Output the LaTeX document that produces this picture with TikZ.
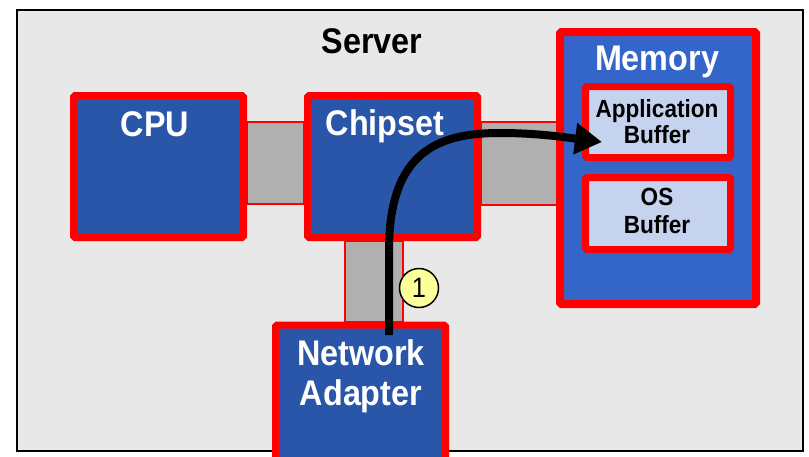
\documentclass[tikz,border=0pt]{standalone}
\usepackage{fontspec}
\setmainfont{Liberation Sans}
\usetikzlibrary{arrows.meta}
\definecolor{bgc}{HTML}{E8E8E8}
\definecolor{boxblue}{HTML}{2A56AA}
\definecolor{memblue}{HTML}{3465C8}
\definecolor{bufc}{HTML}{C5D3EE}
\definecolor{busc}{HTML}{B0B0B0}
\definecolor{redc}{HTML}{FF0000}
\definecolor{numc}{HTML}{FFFF99}
\newcommand{\tallt}[1]{\scalebox{0.98}[1.08]{#1}}
\tikzset{
  unitbox/.style={draw=redc, line width=7pt, fill=boxblue, rounded corners=1.5pt, inner sep=0pt, minimum width=170pt, minimum height=142pt},
  membox/.style={draw=redc, line width=8pt, fill=memblue, rounded corners=1.5pt, inner sep=0pt},
  bufbox/.style={draw=redc, line width=7pt, fill=bufc, rounded corners=1.5pt, inner sep=0pt, minimum width=145pt},
  bus/.style={draw=redc, line width=1.8pt, fill=busc},
  bigw/.style={anchor=base, inner sep=0pt, text=white, font=\fontsize{33}{38}\selectfont\bfseries},
  bigb/.style={anchor=base, inner sep=0pt, text=black, font=\fontsize{33}{38}\selectfont\bfseries},
  smallb/.style={anchor=base, inner sep=0pt, text=black, font=\fontsize{23}{26}\selectfont\bfseries},
  flow/.style={line width=8pt, -{Triangle[length=27pt, width=30pt]}},
}
\begin{document}
\begin{tikzpicture}[x=1pt, y=-1pt]
\useasboundingbox (0,0) rectangle (809,456);
\clip (0,0) rectangle (809,456);
% server frame
\node[draw=black, line width=2pt, fill=bgc, inner sep=0pt, minimum width=786pt, minimum height=441pt] (server) at (410,230.5) {};
\node[bigb] (lblserver) at (372,53) {\tallt{Server}};
% buses
\draw[bus] (247,122) rectangle (304,204);
\draw[bus] (481,122) rectangle (557,205);
\draw[bus] (345,241) rectangle (403,322);
% units
\node[unitbox] (cpu) at (158.5,166.5) {};
\node[unitbox] (chipset) at (392.5,166.5) {};
\node[unitbox] (nic) at (360.5,396) {};
\node[membox, minimum width=196pt, minimum height=272pt] (memory) at (658,168) {};
\node[bufbox, minimum height=71pt] (appbuf) at (658,122) {};
\node[bufbox, minimum height=72pt] (osbuf) at (658,213.5) {};
% labels
\node[bigw] (lblcpu) at (155,136) {\tallt{CPU}};
\node[bigw] (lblchip) at (385,135) {\tallt{Chipset}};
\node[bigw] (lblmem) at (657,70) {\tallt{Memory}};
\node[smallb] (lblapp1) at (657,117) {\tallt{Application}};
\node[smallb] (lblapp2) at (657,143) {\tallt{Buffer}};
\node[smallb] (lblos1) at (657,205) {\tallt{OS}};
\node[smallb] (lblos2) at (657,233) {\tallt{Buffer}};
\node[bigw] (lblnic1) at (361,365) {\tallt{Network}};
\node[bigw] (lblnic2) at (361,405) {\tallt{Adapter}};
% data flow
\coordinate (arrS) at (389,335);
\coordinate (arrE) at (602,142);
\draw[flow] (arrS) -- (389,250) .. controls (389,150) and (440,133) .. (500,133) .. controls (540,133) and (570,138) .. (arrE);
\node[circle, draw=black, line width=1.5pt, fill=numc, minimum size=39pt, inner sep=0pt, font=\fontsize{26}{26}\selectfont] (num) at (419,288) {\tallt{1}};
\end{tikzpicture}
\end{document}
